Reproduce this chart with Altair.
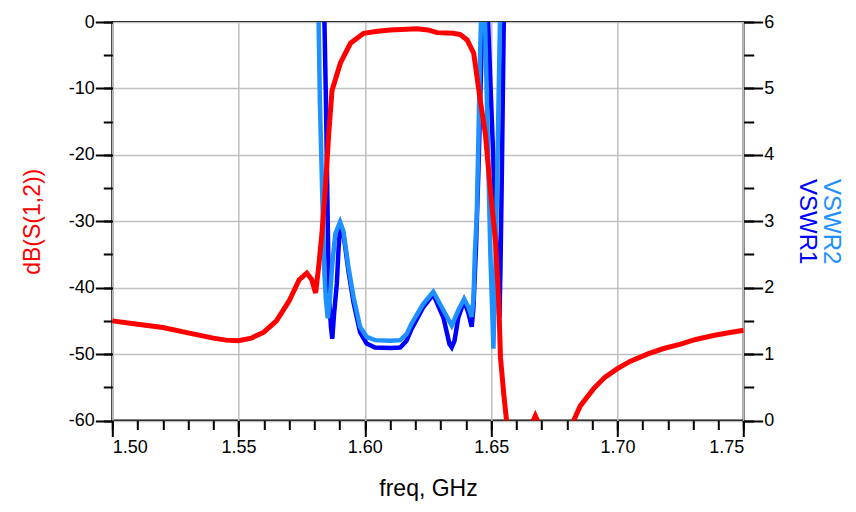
import altair as alt
import pandas as pd

# ---- data ----
s12_freq = [1.500, 1.510, 1.520, 1.530, 1.540, 1.545, 1.550, 1.555, 1.560, 1.565,
            1.570, 1.574, 1.577, 1.579, 1.5805, 1.5817, 1.583, 1.5844, 1.5857, 1.587,
            1.5903, 1.5943, 1.5995, 1.605, 1.610, 1.6206, 1.625, 1.6286, 1.635, 1.6378,
            1.6405, 1.6431, 1.6457, 1.6477, 1.6497, 1.6517, 1.653, 1.6537, 1.655, 1.6561,
            1.658, 1.662, 1.6655, 1.6675, 1.6695, 1.673, 1.677, 1.681, 1.6827, 1.6853,
            1.6906, 1.695, 1.700, 1.705, 1.7118, 1.718, 1.725, 1.731, 1.738, 1.744, 1.750]
s12_db = [-45.0, -45.5, -46.0, -46.8, -47.6, -47.9, -48.0, -47.6, -46.7, -45.0,
          -42.0, -38.8, -37.8, -38.8, -40.8, -36.9, -31.9, -24.8, -16.8, -10.3,
          -6.2, -3.2, -1.7, -1.4, -1.2, -1.0, -1.2, -1.6, -1.7, -1.9,
          -2.7, -4.7, -11.8, -16.8, -25.3, -32.9, -41.9, -50.5, -56.0, -60.0,
          -66.0, -70.0, -61.0, -59.3, -61.0, -70.0, -72.0, -63.0, -60.0, -57.8,
          -55.2, -53.5, -52.2, -51.1, -50.0, -49.2, -48.5, -47.8, -47.2, -46.8, -46.4]

vswr1_freq = [1.5832, 1.5840, 1.5846, 1.5851, 1.5855, 1.5860, 1.5866, 1.5871, 1.5878, 1.5889,
              1.5896, 1.5903, 1.5915, 1.5935, 1.5955, 1.5981, 1.6007, 1.6040, 1.6100, 1.6140,
              1.6165, 1.6185, 1.6230, 1.6271, 1.6311, 1.6335, 1.6344, 1.6355, 1.6370, 1.6393,
              1.6410, 1.6423, 1.6430, 1.6440, 1.6450, 1.6458, 1.6465, 1.6470, 1.6476, 1.6482,
              1.6488, 1.6500, 1.6512, 1.6522, 1.6530, 1.6533, 1.6537, 1.6542, 1.6546, 1.6550,
              1.6556]
vswr1 = [8.0, 6.0, 4.8, 3.5, 2.5, 1.75, 1.4, 1.23, 1.6, 2.06,
         2.6, 2.95, 2.82, 2.25, 1.78, 1.33, 1.16, 1.10, 1.09, 1.10,
         1.20, 1.38, 1.70, 1.90, 1.55, 1.15, 1.10, 1.20, 1.55, 1.80,
         1.62, 1.41, 1.70, 2.6, 3.8, 5.0, 6.0, 8.0, 20.0, 8.0,
         6.0, 4.8, 3.6, 2.5, 1.7, 1.55, 2.3, 3.6, 4.8, 6.0,
         8.0]

vswr2_freq = [1.5810, 1.5817, 1.5822, 1.5828, 1.5834, 1.5840, 1.5846, 1.5853, 1.5860, 1.5870,
              1.5883, 1.5902, 1.5915, 1.5935, 1.5955, 1.5981, 1.6007, 1.6040, 1.6100, 1.6140,
              1.6165, 1.6185, 1.6230, 1.6271, 1.6311, 1.6344, 1.6370, 1.6393, 1.6410, 1.6423,
              1.6430, 1.6436, 1.6443, 1.6450, 1.6456, 1.6460, 1.6465, 1.6470, 1.6476, 1.6485,
              1.6497, 1.6509, 1.6518, 1.6527, 1.6535, 1.6540]
vswr2 = [8.0, 6.0, 4.8, 3.9, 3.0, 2.2, 1.81, 1.54, 1.75, 2.31,
         2.81, 2.99, 2.85, 2.31, 1.86, 1.41, 1.26, 1.21, 1.20, 1.21,
         1.30, 1.46, 1.75, 1.94, 1.66, 1.43, 1.66, 1.83, 1.71, 1.56,
         1.83, 2.56, 3.07, 4.3, 5.5, 6.0, 8.0, 14.0, 6.0, 4.5,
         2.5, 1.08, 2.5, 4.3, 6.0, 8.0]

x_major_ticks = [1.50, 1.55, 1.60, 1.65, 1.70, 1.75]
x_minor_ticks = [round(1.50 + 0.01 * i, 2) for i in range(26)]
db_major_ticks = [0, -10, -20, -30, -40, -50, -60]
db_minor_ticks = [-5 * i for i in range(13)]
vswr_major_ticks = [0, 1, 2, 3, 4, 5, 6]
vswr_minor_ticks = [0.5 * i for i in range(13)]

RED = "#FF0000"
BLUE = "#0000FF"
LIGHT = "#1E90FF"
FONT = "Liberation Sans"

df_s12 = pd.DataFrame({"f": s12_freq, "v": s12_db})
df_v1 = pd.DataFrame({"f": vswr1_freq, "v": vswr1})
df_v2 = pd.DataFrame({"f": vswr2_freq, "v": vswr2})

xscale = alt.Scale(domain=[1.5, 1.75], nice=False, zero=False)
dbscale = alt.Scale(domain=[-60, 0], nice=False, zero=False)
vscale = alt.Scale(domain=[0, 6], nice=False, zero=False)

# minor ticks for x and left y
minor_left = alt.Chart(df_s12).mark_line(strokeOpacity=0, clip=True).encode(
    x=alt.X("f:Q", scale=xscale,
            axis=alt.Axis(orient="bottom", values=x_minor_ticks, tickSize=9, labels=False,
                          grid=False, domain=False, title=None)),
    y=alt.Y("v:Q", scale=dbscale,
            axis=alt.Axis(orient="left", values=db_minor_ticks, tickSize=9, labels=False,
                          grid=False, domain=False, title=None)),
)

# minor ticks for right y + VSWR2 title
minor_right = alt.Chart(df_v2).mark_line(strokeOpacity=0, clip=True).encode(
    x=alt.X("f:Q", scale=xscale, axis=None),
    y=alt.Y("v:Q", scale=vscale,
            axis=alt.Axis(orient="right", values=vswr_minor_ticks, tickSize=10, labels=False,
                          grid=False, domain=False, title="VSWR2", titleColor=LIGHT,
                          titleFontSize=24, titlePadding=64, titleFont=FONT,
                          titleFontWeight="normal")),
)

v1_line = alt.Chart(df_v1).mark_line(color=BLUE, strokeWidth=4.5, clip=True).encode(
    x=alt.X("f:Q", scale=xscale, axis=None),
    y=alt.Y("v:Q", scale=vscale,
            axis=alt.Axis(orient="right", values=vswr_major_ticks, tickSize=19, labelPadding=1,
                          grid=False, domain=False, title="VSWR1", titleColor=BLUE,
                          titleFontSize=24, titlePadding=21, titleFont=FONT,
                          titleFontWeight="normal")),
)

v2_line = alt.Chart(df_v2).mark_line(color=LIGHT, strokeWidth=4.5, clip=True).encode(
    x=alt.X("f:Q", scale=xscale, axis=None),
    y=alt.Y("v:Q", scale=vscale, axis=None),
)

s12_line = alt.Chart(df_s12).mark_line(color=RED, strokeWidth=5, clip=True).encode(
    x=alt.X("f:Q", scale=xscale,
            axis=alt.Axis(orient="bottom", values=x_major_ticks, format=".2f", tickSize=16,
                          labelPadding=2, grid=True, domain=False, title="freq, GHz",
                          titleFontSize=23, titlePadding=21, titleColor="black")),
    y=alt.Y("v:Q", scale=dbscale,
            axis=alt.Axis(orient="left", values=db_major_ticks, tickSize=17, labelPadding=1,
                          labelExpr="'' + datum.value",
                          grid=True, domain=False, title="dB(S(1,2))", titleColor=RED,
                          titleFontSize=23, titlePadding=24)),
)

chart = alt.layer(minor_left, minor_right, v1_line, v2_line, s12_line).resolve_scale(
    y="independent"
).resolve_axis(
    x="independent", y="independent"
).properties(
    width=631.4, height=398.5,
    autosize=alt.AutoSizeParams(type="none"),
    padding={"left": 104.3, "top": 14, "right": 104, "bottom": 83},
).configure_view(
    stroke="black", strokeWidth=2
).configure_axis(
    labelFont=FONT, titleFont=FONT, labelFontSize=18, labelColor="black",
    titleFontWeight="normal", tickColor="black", tickWidth=2,
    gridColor="#c0c0c0", gridWidth=1.5,
)

chart.save("out.html", embed_options={"renderer": "svg", "actions": False})
